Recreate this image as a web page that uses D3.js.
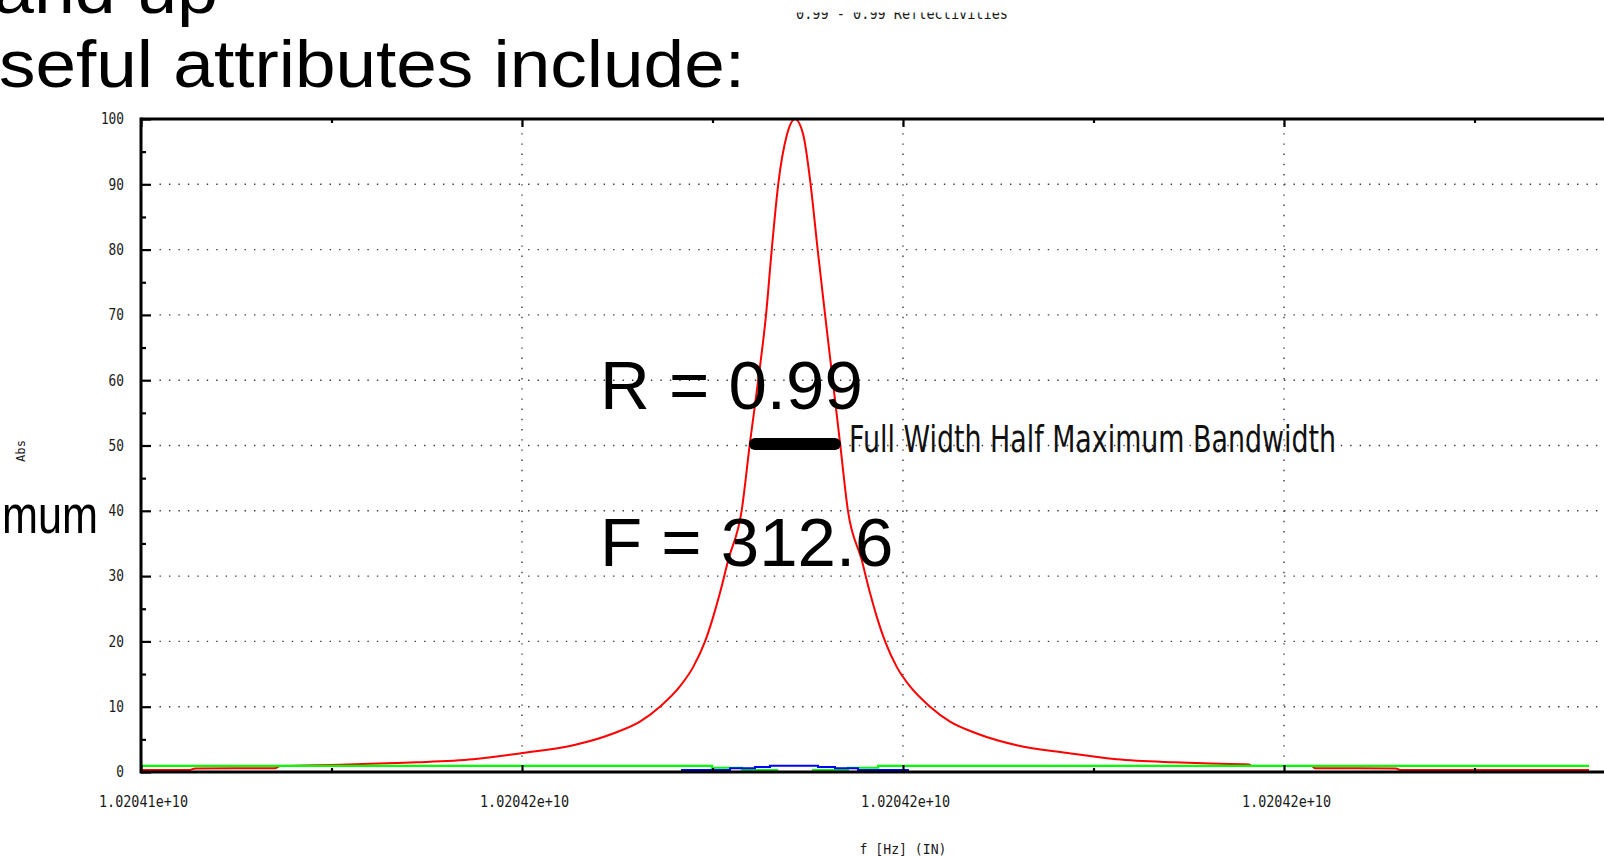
<!DOCTYPE html>
<html>
<head>
<meta charset="utf-8">
<script src="https://cdn.jsdelivr.net/npm/d3@7"></script>
<style>
  html, body { margin: 0; padding: 0; background: #fff; overflow: hidden; }
  svg { display: block; }
</style>
</head>
<body>
<svg id="chart" width="1604" height="857"></svg>
<script>
// ---- data -------------------------------------------------------------
// frequency axis ticks (Hz); the axis runs on to the next major tick
const xTickFreqs  = [10204140000, 10204160000, 10204180000, 10204200000];
const xAxisEnd    = 10204220000;
const xMinorFreqs = [10204150000, 10204170000, 10204190000, 10204210000];
const yTicks      = [0, 10, 20, 30, 40, 50, 60, 70, 80, 90, 100];
const yMinor      = [5, 15, 25, 35, 45, 55, 65, 75, 85, 95];

// transmitted signal (red)
const redFreq = [
  10204140000, 10204142570, 10204142840, 10204147030, 10204147300, 10204150450,
  10204152900, 10204154470, 10204157440, 10204160020, 10204162690, 10204164790,
  10204166190, 10204167240, 10204168290, 10204168990, 10204169610, 10204170040,
  10204170390, 10204170830, 10204171530, 10204171970, 10204172400, 10204172810,
  10204173110, 10204173450, 10204173900, 10204174330, 10204174770, 10204175150,
  10204175520, 10204175910, 10204176310, 10204176690, 10204177110, 10204177830,
  10204178270, 10204178620, 10204179060, 10204179670, 10204180370, 10204181420,
  10204182470, 10204183870, 10204185970, 10204188650, 10204191220, 10204194190,
  10204195760, 10204198160, 10204198320, 10204201470, 10204201630, 10204205880,
  10204206090, 10204216010
];
const redAbs = [
  0.3, 0.32, 0.55, 0.57, 0.9, 1.1,
  1.33, 1.48, 1.94, 2.9, 4.1, 5.9,
  7.7, 10.0, 13.1, 16.1, 20.0, 23.8,
  27.4, 32.5, 40.0, 50.5, 60.0, 70.0,
  80.0, 90.0, 97.5, 100.0, 97.5, 90.0,
  80.0, 70.0, 60.0, 50.5, 40.0, 32.5,
  27.4, 23.8, 20.0, 16.1, 13.1, 10.0,
  7.7, 5.9, 4.1, 2.9, 1.94, 1.48,
  1.33, 1.15, 0.9, 0.9, 0.57, 0.55,
  0.3, 0.3
];

// green trace (stepped)
const greenFreq = [10204140000, 10204169970, 10204171550, 10204173390, 10204175280, 10204177110, 10204178690, 10204216010];
const greenAbs  = [0.95, 0.65, 0.3, 0.0, 0.3, 0.65, 0.95, 0.95];

// blue trace (stepped)
const blueFreq = [10204140000, 10204168400, 10204170920, 10204172230, 10204173020, 10204175540, 10204176430, 10204177640, 10204180260, 10204216010];
const blueAbs  = [0.0, 0.3, 0.57, 0.77, 0.97, 0.77, 0.57, 0.3, 0.0, 0.0];

// half-maximum bandwidth marker
const fwhmFreq  = [10204171970, 10204176690];
const fwhmLevel = 50;

// ---- layout ------------------------------------------------------------
const svg = d3.select("#chart");
const plotLeft = 141, plotRight = 1665, plotTop = 119, plotBottom = 772;

const x = d3.scaleLinear().domain([xTickFreqs[0], xAxisEnd]).range([plotLeft, plotRight]);
const y = d3.scaleLinear().domain([0, 100]).range([plotBottom, plotTop]);

const fmtHz = v => (v / 1e10).toFixed(5) + "e+10";
const monoFont = "'DejaVu Sans Mono', 'Liberation Mono', monospace";

// ---- dotted grid -------------------------------------------------------
const grid = svg.append("g").attr("stroke", "#3a3a3a").attr("stroke-width", 1.4);
grid.selectAll("line.h")
  .data(yTicks.filter(d => d > 0 && d < 100))
  .join("line")
  .attr("x1", plotLeft + 18.5).attr("x2", 1604)
  .attr("y1", d => y(d)).attr("y2", d => y(d))
  .attr("stroke-dasharray", "1.4 8.05");
grid.selectAll("line.v")
  .data(xTickFreqs.slice(1))
  .join("line")
  .attr("x1", d => x(d)).attr("x2", d => x(d))
  .attr("y1", plotTop + 4).attr("y2", plotBottom)
  .attr("stroke-dasharray", "1.4 8.8");

// ---- traces ------------------------------------------------------------
const toPts = (fs, vs) => fs.map((f, i) => [f, vs[i]]);
const lineSmooth = d3.line().x(d => x(d[0])).y(d => y(d[1])).curve(d3.curveMonotoneX);
const lineStep   = d3.line().x(d => x(d[0])).y(d => y(d[1])).curve(d3.curveStepAfter);

svg.append("path").datum(toPts(redFreq, redAbs))
  .attr("d", lineSmooth).attr("fill", "none").attr("stroke", "#ff0000").attr("stroke-width", 2);
svg.append("path").datum(toPts(greenFreq, greenAbs))
  .attr("d", lineStep).attr("fill", "none").attr("stroke", "#00ff00").attr("stroke-width", 2.2);
svg.append("path").datum(toPts(blueFreq, blueAbs))
  .attr("d", lineStep).attr("fill", "none").attr("stroke", "#0000ff").attr("stroke-width", 2);

// ---- axes ----------------------------------------------------------------
function styleTickText(sel, perChar) {
  sel.selectAll("text")
    .attr("font-family", monoFont).attr("font-size", 15).attr("fill", "#1a1a1a")
    .attr("textLength", function () { return this.textContent.length * perChar; })
    .attr("lengthAdjust", "spacingAndGlyphs");
}
function plainTicks(sel) {
  sel.select(".domain").remove();
  sel.selectAll("line").attr("stroke", "#000").attr("stroke-width", 2.2);
}

const axB = svg.append("g").attr("transform", `translate(0,${plotBottom})`)
  .call(d3.axisBottom(x).tickValues(xTickFreqs).tickSize(-7).tickPadding(24).tickFormat(fmtHz));
plainTicks(axB);
styleTickText(axB, 8.1);
axB.selectAll("text").attr("dx", 2);

const axBm = svg.append("g").attr("transform", `translate(0,${plotBottom})`)
  .call(d3.axisBottom(x).tickValues(xMinorFreqs).tickSize(-4).tickFormat(""));
plainTicks(axBm);

const axT = svg.append("g").attr("transform", `translate(0,${plotTop})`)
  .call(d3.axisTop(x).tickValues(xTickFreqs).tickSize(-8).tickFormat(""));
plainTicks(axT);
const axTm = svg.append("g").attr("transform", `translate(0,${plotTop})`)
  .call(d3.axisTop(x).tickValues(xMinorFreqs).tickSize(-4).tickFormat(""));
plainTicks(axTm);

const axL = svg.append("g").attr("transform", `translate(${plotLeft},0)`)
  .call(d3.axisLeft(y).tickValues(yTicks).tickSize(-10).tickPadding(17));
plainTicks(axL);
styleTickText(axL, 7.7);

const axLm = svg.append("g").attr("transform", `translate(${plotLeft},0)`)
  .call(d3.axisLeft(y).tickValues(yMinor).tickSize(-5).tickFormat(""));
plainTicks(axLm);

// frame
const frame = svg.append("g").attr("stroke", "#000").attr("stroke-width", 3).attr("fill", "none");
frame.append("line").attr("x1", plotLeft).attr("x2", 1604).attr("y1", plotTop).attr("y2", plotTop);
frame.append("line").attr("x1", plotLeft).attr("x2", 1604).attr("y1", plotBottom).attr("y2", plotBottom);
frame.append("line").attr("x1", plotLeft).attr("x2", plotLeft).attr("y1", plotTop - 1.5).attr("y2", plotBottom + 1.5);

// axis titles
svg.append("text").text("f [Hz] (IN)")
  .attr("x", (plotLeft + plotRight) / 2).attr("y", 854)
  .attr("text-anchor", "middle").attr("font-family", monoFont).attr("font-size", 14).attr("fill", "#1a1a1a")
  .attr("textLength", 87).attr("lengthAdjust", "spacingAndGlyphs");
svg.append("text").text("Abs")
  .attr("transform", "translate(25,451) rotate(-90)")
  .attr("text-anchor", "middle").attr("font-family", monoFont).attr("font-size", 12).attr("fill", "#1a1a1a")
  .attr("textLength", 22).attr("lengthAdjust", "spacingAndGlyphs");

// plot title, partly hidden above the top edge
svg.append("clipPath").attr("id", "titleClip")
  .append("rect").attr("x", 700).attr("y", 12.6).attr("width", 400).attr("height", 20);
svg.append("text").text("0.99 - 0.99 Reflectivities")
  .attr("clip-path", "url(#titleClip)")
  .attr("x", 796).attr("y", 18.5)
  .attr("font-family", monoFont).attr("font-size", 15).attr("fill", "#1a1a1a")
  .attr("textLength", 212).attr("lengthAdjust", "spacingAndGlyphs");

// ---- annotations ---------------------------------------------------------
svg.append("line")
  .attr("x1", x(fwhmFreq[0]) + 5).attr("x2", x(fwhmFreq[1]) - 5)
  .attr("y1", y(fwhmLevel) - 1.5).attr("y2", y(fwhmLevel) - 1.5)
  .attr("stroke", "#000").attr("stroke-width", 12).attr("stroke-linecap", "round");

svg.append("text").text("Full Width Half Maximum Bandwidth")
  .attr("x", 849).attr("y", 452)
  .attr("font-family", "'DejaVu Sans', sans-serif").attr("font-size", 38).attr("fill", "#111")
  .attr("textLength", 487).attr("lengthAdjust", "spacingAndGlyphs");

const bigFont = "'Liberation Sans', Arial, sans-serif";
svg.append("text").text("R = 0.99")
  .attr("x", 600).attr("y", 409)
  .attr("font-family", bigFont).attr("font-size", 69).attr("fill", "#000");
svg.append("text").text("F = 312.6")
  .attr("x", 600).attr("y", 566)
  .attr("font-family", bigFont).attr("font-size", 69).attr("fill", "#000");

// ---- surrounding slide text ----------------------------------------------
svg.append("text").text("and up")
  .attr("x", 218).attr("y", 13).attr("text-anchor", "end")
  .attr("font-family", bigFont).attr("font-size", 67).attr("fill", "#000")
  .attr("textLength", 225).attr("lengthAdjust", "spacingAndGlyphs");

svg.append("text").text("seful attributes include:")
  .attr("x", -1).attr("y", 87)
  .attr("font-family", bigFont).attr("font-size", 67).attr("fill", "#000")
  .attr("textLength", 746).attr("lengthAdjust", "spacingAndGlyphs");

svg.append("text").text("mum")
  .attr("x", 98).attr("y", 533).attr("text-anchor", "end")
  .attr("font-family", bigFont).attr("font-size", 54).attr("fill", "#000")
  .attr("textLength", 96).attr("lengthAdjust", "spacingAndGlyphs");
</script>
</body>
</html>
